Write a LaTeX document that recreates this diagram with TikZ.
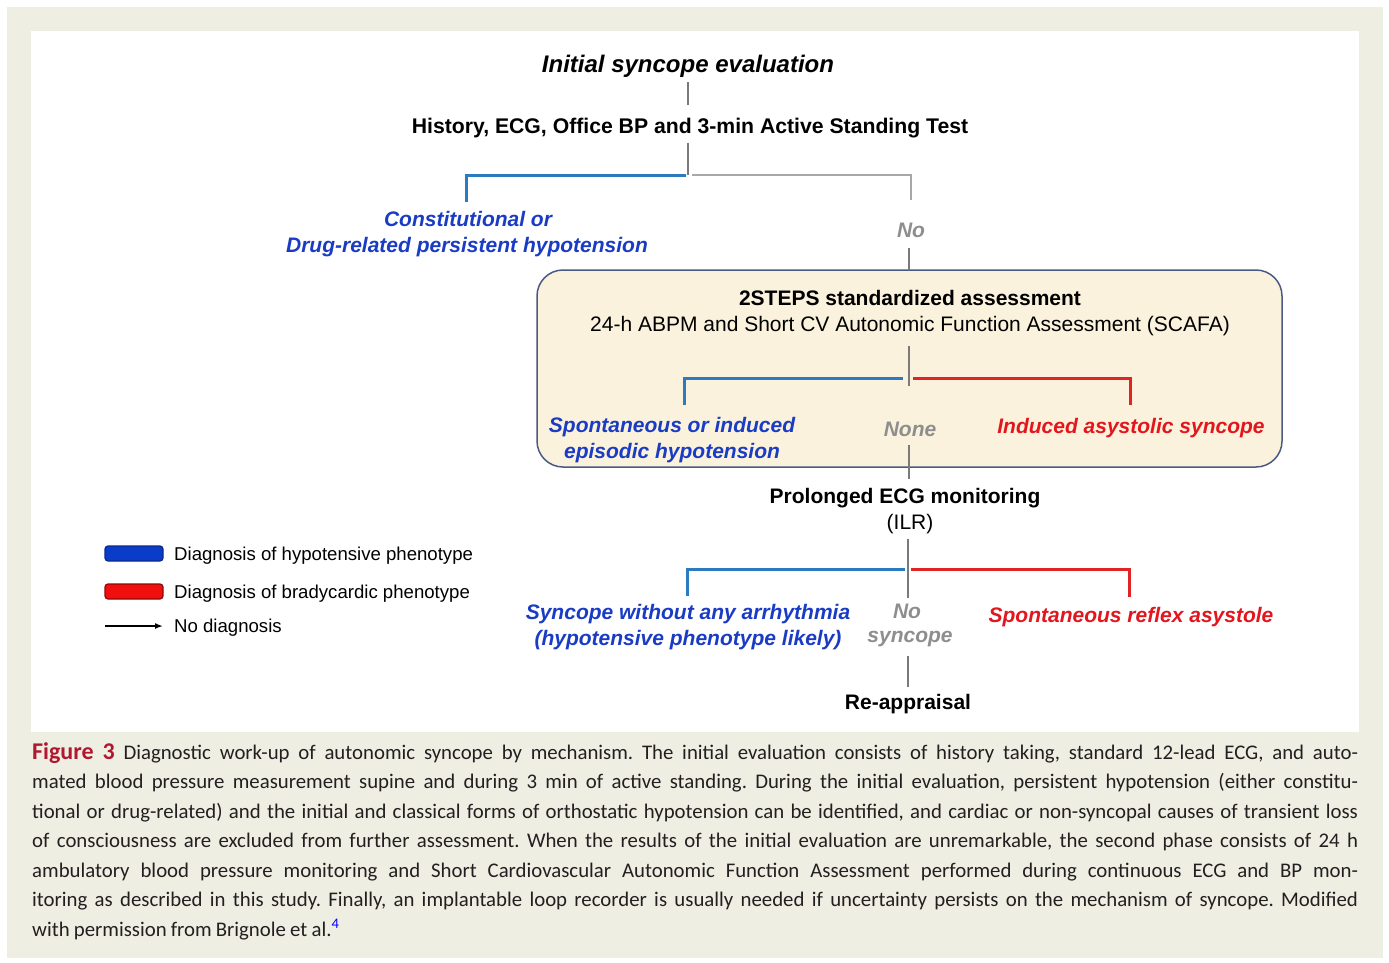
\documentclass[tikz,border=0pt]{standalone}
\usepackage{fontspec}
\setmainfont{Liberation Sans}
\newfontfamily\capfont{Carlito}
\usetikzlibrary{arrows.meta}
\definecolor{pagebg}{HTML}{EEEEE3}
\definecolor{boxfill}{HTML}{FAF2DC}
\definecolor{boxdraw}{HTML}{4A5A82}
\definecolor{hblue}{HTML}{1A3CC4}
\definecolor{lblue}{HTML}{2C7BBF}
\definecolor{hred}{HTML}{E3161E}
\definecolor{lred}{HTML}{E02424}
\definecolor{ngray}{HTML}{8E8E8E}
\definecolor{lgray}{HTML}{A8A8A8}
\definecolor{cgray}{HTML}{7A7A7A}
\definecolor{capred}{HTML}{B01830}
\definecolor{captext}{HTML}{231F20}
\definecolor{legblue}{HTML}{0B3CC9}
\definecolor{legred}{HTML}{F00E0E}
\newcommand{\capline}[1]{\hbox to 1326pt{\spaceskip=0.2em plus 3em minus 0.05em\relax #1}}
\begin{document}
\begin{tikzpicture}[x=1pt,y=-1pt,
  lbl/.style={inner sep=0pt, anchor=base, text=black, font=\fontsize{21}{25}\selectfont},
  blbl/.style={lbl, font=\fontsize{21}{25}\selectfont\bfseries},
  hyptxt/.style={lbl, text=hblue, font=\fontsize{21}{25}\selectfont\bfseries\itshape},
  bradtxt/.style={lbl, text=hred, font=\fontsize{21}{25}\selectfont\bfseries\itshape},
  notxt/.style={lbl, text=ngray, font=\fontsize{21}{25}\selectfont\bfseries\itshape},
  legtxt/.style={inner sep=0pt, anchor=base west, font=\fontsize{18.6}{22}\selectfont},
  conn/.style={draw=cgray, line width=1.1pt},
  hyp/.style={draw=lblue, line width=3pt},
  brad/.style={draw=lred, line width=3pt},
  nob/.style={draw=lgray, line width=2.4pt},
  assess/.style={draw=boxdraw, fill=boxfill, line width=1.5pt, rounded corners=26pt,
    minimum width=745pt, minimum height=197pt, inner sep=0pt},
  legbox/.style={line width=1.2pt, rounded corners=3pt, minimum width=58pt, minimum height=15pt, inner sep=0pt},
]
\useasboundingbox (0,0) rectangle (1389,962);
\fill[white] (0,0) rectangle (1389,962);
\fill[pagebg] (7,7) rectangle (1383,958);
\fill[white] (31,31) rectangle (1359,732);

% assessment box
\node[assess] (box) at (909.5,368.5) {};

% texts
\node[lbl, font=\fontsize{24}{28}\selectfont\bfseries\itshape] (init) at (688,72) {Initial syncope evaluation};
\node[blbl, font=\fontsize{21.2}{25}\selectfont\bfseries] (hist) at (690,133) {History, ECG, Office BP and 3-min Active Standing Test};
\node[hyptxt] (con1) at (468,226) {Constitutional or};
\node[hyptxt] (con2) at (467,252) {Drug-related persistent hypotension};
\node[notxt] (no1) at (911,237) {No};
\node[blbl] (steps) at (910,305) {2STEPS standardized assessment};
\node[lbl] (abpm) at (910,331) {24-h ABPM and Short CV Autonomic Function Assessment (SCAFA)};
\node[hyptxt] (spon1) at (672,432) {Spontaneous or induced};
\node[hyptxt] (spon2) at (672,458) {episodic hypotension};
\node[notxt] (none) at (910,436) {None};
\node[bradtxt] (ias) at (1131,433) {Induced asystolic syncope};
\node[blbl] (prol) at (905,503) {Prolonged ECG monitoring};
\node[lbl] (ilr) at (910,529) {(ILR)};
\node[hyptxt] (swa1) at (688,619) {Syncope without any arrhythmia};
\node[hyptxt] (swa2) at (688,645) {(hypotensive phenotype likely)};
\node[notxt] (nos1) at (907,618) {No};
\node[notxt] (nos2) at (910,642) {syncope};
\node[bradtxt] (sra) at (1131,622) {Spontaneous reflex asystole};
\node[blbl] (reapp) at (908,709) {Re-appraisal};

% junctions and free ends
\coordinate (j1) at (688,175);
\coordinate (j2) at (909,378.5);
\coordinate (j3) at (908,569.5);
\coordinate (e1) at (466,202);
\coordinate (e2) at (911,200);
\coordinate (e3) at (684,405);
\coordinate (e4) at (1130,405);
\coordinate (e5) at (687,596);
\coordinate (e6) at (1129,597);

% connectors, top
\draw[conn] ([yshift=-5pt]init.south) -- ([yshift=12pt]init.south |- hist.north);
\draw[conn] ([yshift=-5pt]hist.south -| j1) -- (j1);
\draw[hyp] ([xshift=-2pt]j1) -| (e1);
\draw[nob] ([xshift=4pt]j1) -| (e2);
\draw[conn] ([yshift=-11pt]no1.south -| 909,0) -- (909,270);
% inside the box
\draw[conn] ([yshift=-10pt]abpm.south -| j2) -- ([yshift=-7pt]j2);
\draw[hyp] ([xshift=-6pt]j2) -| (e3);
\draw[brad] ([xshift=4pt]j2) -| (e4);
\draw[conn] ([yshift=-9pt]none.south -| j2) -- ([yshift=9pt]prol.north -| j2);
% ILR stage
\draw[conn] ([yshift=-5pt]ilr.south -| j3) -- ([yshift=-28pt]j3);
\draw[hyp] ([xshift=-3pt]j3) -| (e5);
\draw[brad] ([xshift=3pt]j3) -| (e6);
\draw[conn] ([yshift=-9pt]nos2.south -| j3) -- ([yshift=7pt]reapp.north -| j3);

% legend
\node[legbox, draw=legblue!70!black, fill=legblue] (lb) at (134,553.5) {};
\node[legbox, draw=legred!60!black, fill=legred] (lr) at (134,591.5) {};
\coordinate (la1) at (105,626);
\coordinate (la2) at (163,626);
\draw[line width=1.5pt, -{Latex[length=8pt,width=6pt]}] (la1) -- (la2);
\node[legtxt] (lt1) at (174,560) {Diagnosis of hypotensive phenotype};
\node[legtxt] (lt2) at (174,598) {Diagnosis of bradycardic phenotype};
\node[legtxt] (lt3) at (174,632) {No diagnosis};

% caption
\node[inner sep=0pt, anchor=base west, text width=1326pt, text=captext,
  font=\capfont\fontsize{20.8}{29.5}\selectfont\frenchspacing] (cap) at (32,759)
{\capline{{\fontsize{24}{29.5}\selectfont\bfseries\color{capred}Figure 3} Diagnostic work-up of autonomic syncope by mechanism. The initial evaluation consists of history taking, standard 12-lead ECG, and auto-}
\capline{mated blood pressure measurement supine and during 3 min of active standing. During the initial evaluation, persistent hypotension (either constitu-}
\capline{tional or drug-related) and the initial and classical forms of orthostatic hypotension can be identified, and cardiac or non-syncopal causes of transient loss}
\capline{of consciousness are excluded from further assessment. When the results of the initial evaluation are unremarkable, the second phase consists of 24 h}
\capline{ambulatory blood pressure monitoring and Short Cardiovascular Autonomic Function Assessment performed during continuous ECG and BP mon-}
\capline{itoring as described in this study. Finally, an implantable loop recorder is usually needed if uncertainty persists on the mechanism of syncope. Modified}
\hbox{\spaceskip=0.2em\relax with permission from Brignole et al.\textsuperscript{\color{blue}4}}};
\end{tikzpicture}
\end{document}
